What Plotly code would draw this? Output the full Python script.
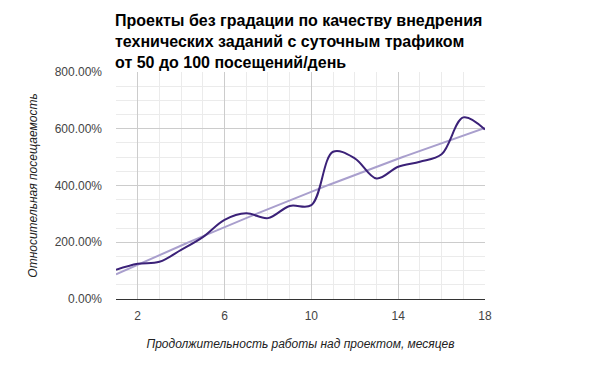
import numpy as np
import plotly.graph_objects as go

# Data
months = list(range(1, 19))
visits_pct = [103, 124, 131, 173, 218, 279, 302, 285, 328, 331, 519, 496, 425, 466, 484, 510, 640, 597]
x_tick_vals = [2, 6, 10, 14, 18]
y_tick_vals = [0, 200, 400, 600, 800]
y_tick_text = [f"{v:.2f}%" for v in y_tick_vals]

title_text = ("Проекты без градации по качеству внедрения<br>"
              "технических заданий с суточным трафиком<br>"
              "от 50 до 100 посещений/день")
x_title = "Продолжительность работы над проектом, месяцев"
y_title = "Относительная посещаемость"

# polynomial (degree 2) trendline computed from the data
coef = np.polyfit(months, visits_pct, 2)
trend_x = np.linspace(months[0], months[-1], 200)
trend_y = np.polyval(coef, trend_x)

FONT = "Liberation Sans, Arial, sans-serif"

# the page body adds an 8px margin; the figure is sized to fit the window
fig = go.Figure()
fig.add_trace(go.Scatter(
    x=trend_x, y=trend_y, mode="lines",
    line=dict(color="#a99fcd", width=2),
    hoverinfo="skip", showlegend=False,
))
fig.add_trace(go.Scatter(
    x=months, y=visits_pct, mode="lines",
    line=dict(color="#3b2178", width=2, shape="spline", smoothing=1.0),
    showlegend=False,
))

fig.add_annotation(
    text="<b>" + title_text + "</b>",
    font=dict(family=FONT, size=16, color="#000"),
    xref="paper", yref="paper",
    x=-3 / 369, y=1 + 62 / 227,
    xanchor="left", yanchor="top", align="left",
    showarrow=False,
)

fig.update_layout(
    width=592, height=363,
    margin=dict(l=108, r=115, t=64, b=72, autoexpand=False),
    paper_bgcolor="white", plot_bgcolor="white",
    font=dict(family=FONT, size=12, color="#444"),
    xaxis=dict(
        range=[1, 18], automargin=False,
        tickmode="array", tickvals=x_tick_vals,
        showgrid=True, gridcolor="#cccccc", gridwidth=1,
        minor=dict(tickmode="array", tickvals=months, showgrid=True,
                   gridcolor="#ebebeb", gridwidth=1),
        showline=True, linecolor="#333333", linewidth=1,
        zeroline=False, ticks="",
        ticklabelstandoff=6,
        tickfont=dict(size=12, color="#444"),
        title=dict(text="<i>" + x_title + "</i>",
                   font=dict(size=12, color="#222"), standoff=17),
    ),
    yaxis=dict(
        range=[0, 800], automargin=False,
        tickmode="array", tickvals=y_tick_vals, ticktext=y_tick_text,
        showgrid=True, gridcolor="#cccccc", gridwidth=1,
        minor=dict(dtick=50, showgrid=True, gridcolor="#ebebeb", gridwidth=1),
        zeroline=False, showline=False, ticks="",
        ticklabelstandoff=13,
        tickfont=dict(size=12, color="#444"),
        title=dict(text="<i>" + y_title + "</i>",
                   font=dict(size=12, color="#222"), standoff=14),
    ),
)

fig.write_html("out.html")
